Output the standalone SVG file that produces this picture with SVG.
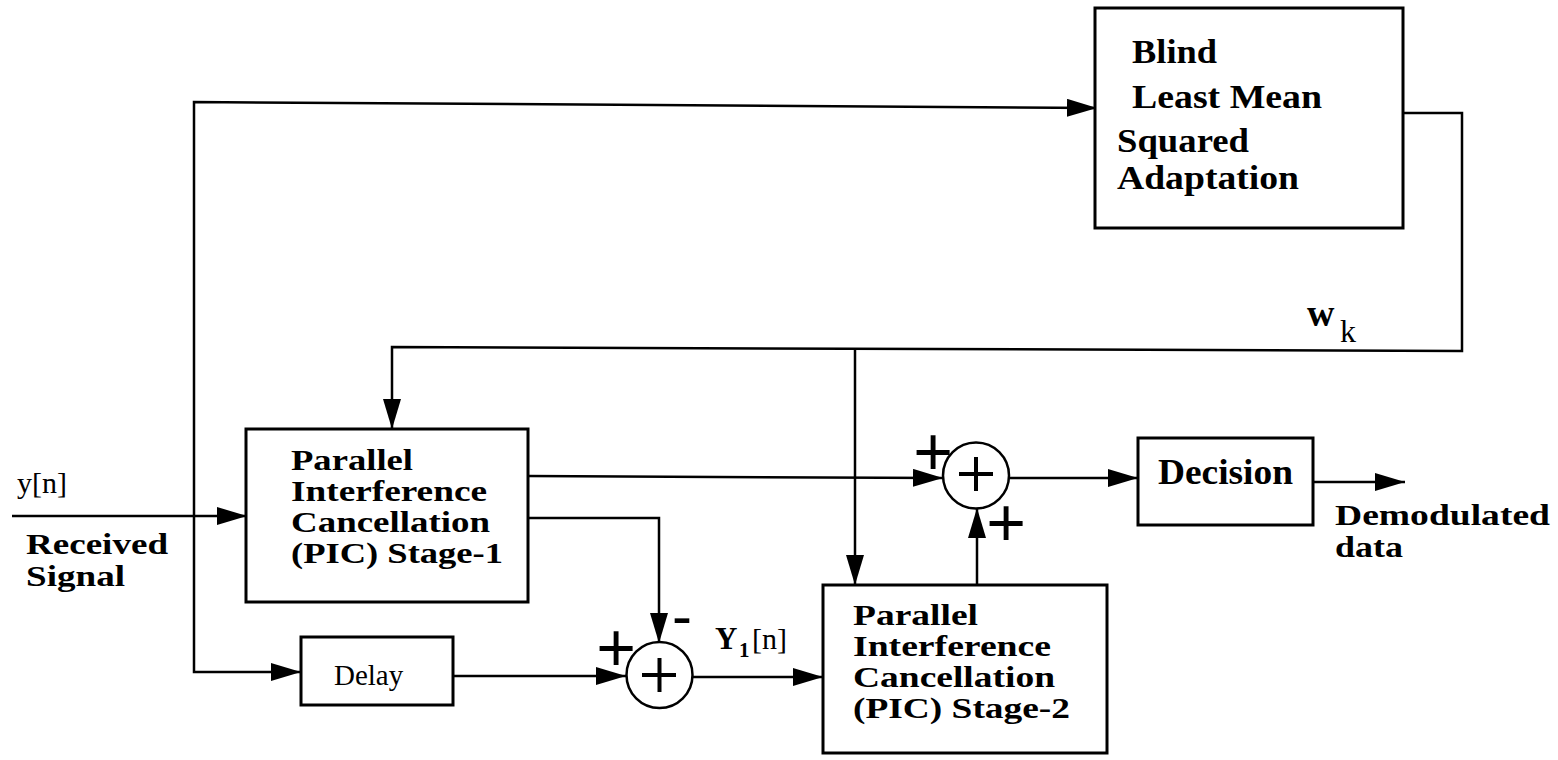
<svg xmlns="http://www.w3.org/2000/svg" width="1558" height="760" viewBox="0 0 1558 760">
<style>
.box{fill:#fff;stroke:#000;stroke-width:3}
.ln{fill:none;stroke:#000;stroke-width:2.5}
.b{font-family:"Liberation Serif","Times New Roman",serif;font-weight:bold;font-size:30px;fill:#000}
.r{font-family:"Liberation Serif","Times New Roman",serif;font-size:30px;fill:#000}
.sg{font-family:"Liberation Sans",Arial,sans-serif;font-size:68px;fill:#000;text-anchor:middle}
.circ{fill:#fff;stroke:#000;stroke-width:2.5}
.pl{stroke:#000;stroke-width:4}
</style>
<defs>
<marker id="ah" markerUnits="userSpaceOnUse" markerWidth="30" markerHeight="18" refX="30" refY="9" orient="auto">
<path d="M0,0 L30,9 L0,18 z" fill="#000"/>
</marker>
</defs>
<rect width="1558" height="760" fill="#fff"/>
<g id="connectors">
<path class="ln" d="M12,516 H247" marker-end="url(#ah)"/>
<path class="ln" d="M194,516 V102 L1097,108" marker-end="url(#ah)"/>
<path class="ln" d="M194,516 V672 H301" marker-end="url(#ah)"/>
<path class="ln" d="M1403,113 H1462 V351 L392,347 V429" marker-end="url(#ah)"/>
<path class="ln" d="M855,349 V585" marker-end="url(#ah)"/>
<path class="ln" d="M528,476 L943,478" marker-end="url(#ah)"/>
<path class="ln" d="M528,518 H659 V643" marker-end="url(#ah)"/>
<path class="ln" d="M453,676 H626" marker-end="url(#ah)"/>
<path class="ln" d="M693,677 H823" marker-end="url(#ah)"/>
<path class="ln" d="M977,585 V508" marker-end="url(#ah)"/>
<path class="ln" d="M1009,478 H1138" marker-end="url(#ah)"/>
<path class="ln" d="M1313,482 H1405" marker-end="url(#ah)"/>
</g>
<g id="input-label">
<text class="r" x="17" y="493">y[n]</text>
<text class="b" x="26" y="554" textLength="142" lengthAdjust="spacingAndGlyphs">Received</text>
<text class="b" x="26" y="586" textLength="99" lengthAdjust="spacingAndGlyphs">Signal</text>
</g>
<g id="blms">
<rect class="box" x="1095" y="8" width="308" height="220"/>
<text class="b" x="1132" y="63" style="font-size:33px" textLength="85" lengthAdjust="spacingAndGlyphs">Blind</text>
<text class="b" x="1132" y="108" style="font-size:33px" textLength="190" lengthAdjust="spacingAndGlyphs">Least Mean</text>
<text class="b" x="1117" y="152" style="font-size:33px" textLength="132" lengthAdjust="spacingAndGlyphs">Squared</text>
<text class="b" x="1117" y="189" style="font-size:33px" textLength="182" lengthAdjust="spacingAndGlyphs">Adaptation</text>
</g>
<g id="wk-label">
<text class="b" x="1307" y="326" style="font-size:38px">w</text>
<text class="r" x="1340" y="342" style="font-size:32px">k</text>
</g>
<g id="pic1">
<rect class="box" x="246" y="429" width="282" height="173"/>
<text class="b" x="291" y="470" textLength="122" lengthAdjust="spacingAndGlyphs">Parallel</text>
<text class="b" x="291" y="501" textLength="196" lengthAdjust="spacingAndGlyphs">Interference</text>
<text class="b" x="291" y="532" textLength="199" lengthAdjust="spacingAndGlyphs">Cancellation</text>
<text class="b" x="291" y="563" textLength="212" lengthAdjust="spacingAndGlyphs">(PIC) Stage-1</text>
</g>
<g id="delay">
<rect class="box" x="301" y="637" width="152" height="68"/>
<text class="r" x="334" y="685" style="font-size:29px">Delay</text>
</g>
<g id="sum1">
<circle class="circ" cx="659.5" cy="675" r="33"/>
<line class="pl" x1="642" y1="675" x2="676" y2="675"/>
<line class="pl" x1="659.5" y1="658" x2="659.5" y2="692"/>
<text class="sg" x="616" y="671">+</text>
<text class="sg" x="682" y="636" style="font-size:60px">-</text>
</g>
<g id="y1-label">
<text class="b" x="715" y="649" style="font-size:31px">Y<tspan x="739" dy="8" style="font-size:21px">1</tspan><tspan x="752" dy="-8" style="font-weight:normal;font-size:30px">[n]</tspan></text>
</g>
<g id="pic2">
<rect class="box" x="823" y="585" width="284" height="168"/>
<text class="b" x="853" y="625" textLength="125" lengthAdjust="spacingAndGlyphs">Parallel</text>
<text class="b" x="853" y="656" textLength="198" lengthAdjust="spacingAndGlyphs">Interference</text>
<text class="b" x="853" y="687" textLength="202" lengthAdjust="spacingAndGlyphs">Cancellation</text>
<text class="b" x="853" y="718" textLength="217" lengthAdjust="spacingAndGlyphs">(PIC) Stage-2</text>
</g>
<g id="sum2">
<circle class="circ" cx="976" cy="475.5" r="33"/>
<line class="pl" x1="959" y1="474" x2="993" y2="474"/>
<line class="pl" x1="976" y1="457" x2="976" y2="491"/>
<text class="sg" x="933" y="475">+</text>
<text class="sg" x="1006" y="546">+</text>
</g>
<g id="decision">
<rect class="box" x="1138" y="438" width="175" height="87"/>
<text class="b" x="1158" y="484" style="font-size:35px" textLength="135" lengthAdjust="spacingAndGlyphs">Decision</text>
</g>
<g id="output-label">
<text class="b" x="1335" y="525" textLength="215" lengthAdjust="spacingAndGlyphs">Demodulated</text>
<text class="b" x="1335" y="557" textLength="68" lengthAdjust="spacingAndGlyphs">data</text>
</g>
</svg>
